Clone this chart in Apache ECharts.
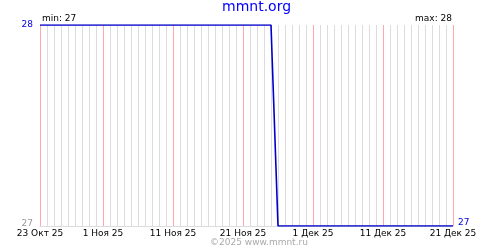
<!DOCTYPE html>
<html><head><meta charset="utf-8">
<script src="https://cdn.jsdelivr.net/npm/echarts@6/dist/echarts.min.js"></script>
<style>html,body{margin:0;padding:0;background:#fff}#c{width:500px;height:250px}</style>
</head><body><div id="c"></div>
<script>
const days = [
 '2025-10-23','2025-10-24','2025-10-25','2025-10-26','2025-10-27','2025-10-28','2025-10-29','2025-10-30','2025-10-31',
 '2025-11-01','2025-11-02','2025-11-03','2025-11-04','2025-11-05','2025-11-06','2025-11-07','2025-11-08','2025-11-09','2025-11-10',
 '2025-11-11','2025-11-12','2025-11-13','2025-11-14','2025-11-15','2025-11-16','2025-11-17','2025-11-18','2025-11-19','2025-11-20',
 '2025-11-21','2025-11-22','2025-11-23','2025-11-24','2025-11-25','2025-11-26','2025-11-27','2025-11-28','2025-11-29','2025-11-30',
 '2025-12-01','2025-12-02','2025-12-03','2025-12-04','2025-12-05','2025-12-06','2025-12-07','2025-12-08','2025-12-09','2025-12-10',
 '2025-12-11','2025-12-12','2025-12-13','2025-12-14','2025-12-15','2025-12-16','2025-12-17','2025-12-18','2025-12-19','2025-12-20',
 '2025-12-21'
];
const values = [
 28,28,28,28,28,28,28,28,28,
 28,28,28,28,28,28,28,28,28,28,
 28,28,28,28,28,28,28,28,28,28,
 28,28,28,28,28,27,27,27,27,27,
 27,27,27,27,27,27,27,27,27,27,
 27,27,27,27,27,27,27,27,27,27,
 27
];
const tickDates = ['2025-10-23','2025-11-01','2025-11-11','2025-11-21','2025-12-01','2025-12-11','2025-12-21'];
const tickLabels = ['23 Окт 25','1 Ноя 25','11 Ноя 25','21 Ноя 25','1 Дек 25','11 Дек 25','21 Дек 25'];
const yMin = 27, yMax = 28;
const minText = 'min: 27', maxText = 'max: 28';
const titleText = 'mmnt.org', copyText = '©2025 www.mmnt.ru';

const FONT = 'DejaVu Sans';
const tickIdx = tickDates.map(d => days.indexOf(d));
const isTick = (i) => tickIdx.indexOf(i) >= 0;

const chart = echarts.init(document.getElementById('c'), null, {renderer: 'canvas'});
chart.setOption({
  animation: false,
  backgroundColor: '#fff',
  title: [
    {text: titleText, left: 222, top: 0, padding: 0, textStyle: {color: '#0000ff', fontSize: 14, fontWeight: 'normal', fontFamily: FONT}},
    {text: minText, left: 42, top: 14, padding: 0, textStyle: {color: '#000', fontSize: 9, fontWeight: 'normal', fontFamily: FONT}},
    {text: maxText, right: 48, top: 14, padding: 0, textStyle: {color: '#000', fontSize: 9, fontWeight: 'normal', fontFamily: FONT}},
    {text: copyText, left: 210, top: 238, padding: 0, textStyle: {color: '#aaaaaa', fontSize: 9, fontWeight: 'normal', fontFamily: FONT}}
  ],
  grid: {left: 40, right: 47, top: 25, bottom: 24, containLabel: false},
  xAxis: {
    type: 'category', data: days, boundaryGap: false,
    axisLine: {show: true, lineStyle: {color: '#dcdcdc', width: 1}},
    axisTick: {show: false},
    axisLabel: {
      interval: (i) => isTick(i),
      formatter: (v) => tickLabels[tickDates.indexOf(v)],
      color: '#000', fontSize: 9, fontFamily: FONT, margin: 3
    },
    splitLine: {show: true, interval: 0, lineStyle: {color: '#dcdcdc', width: 1}}
  },
  yAxis: {
    type: 'value', min: yMin, max: yMax, interval: 1,
    axisLine: {show: false}, axisTick: {show: false}, splitLine: {show: false},
    axisLabel: {
      margin: 7, fontSize: 9, fontFamily: FONT,
      formatter: (v) => v === yMin ? '{lo|' + v + '}' : '{hi|' + v + '}',
      rich: {
        lo: {color: '#999999', fontSize: 9, fontFamily: FONT, padding: [0, 0, 5, 0]},
        hi: {color: '#0000dd', fontSize: 9, fontFamily: FONT}
      }
    }
  },
  series: [
    {
      type: 'custom', silent: true, z: 4,
      data: tickIdx.map(i => [i, yMax]),
      encode: {x: 0, y: 1},
      renderItem: (params, api) => {
        const idx = tickIdx[params.dataIndex];
        const p1 = api.coord([idx, yMax]);
        const p2 = api.coord([idx, yMin]);
        const x = Math.round(p1[0]) + 0.5;
        return {
          type: 'line', z2: 10,
          shape: {x1: x, y1: p1[1], x2: x, y2: p2[1]},
          style: {stroke: '#ffa8a8', lineWidth: 1}
        };
      }
    },
    {
      type: 'line', data: values,
      showSymbol: false, symbol: 'none',
      lineStyle: {color: '#0000cc', width: 1.6},
      itemStyle: {color: '#0000cc'},
      endLabel: {show: true, formatter: '{c}', color: '#0000dd', fontSize: 9, fontFamily: FONT, distance: 5, offset: [0, -3]},
      z: 5
    }
  ]
});
</script></body></html>
